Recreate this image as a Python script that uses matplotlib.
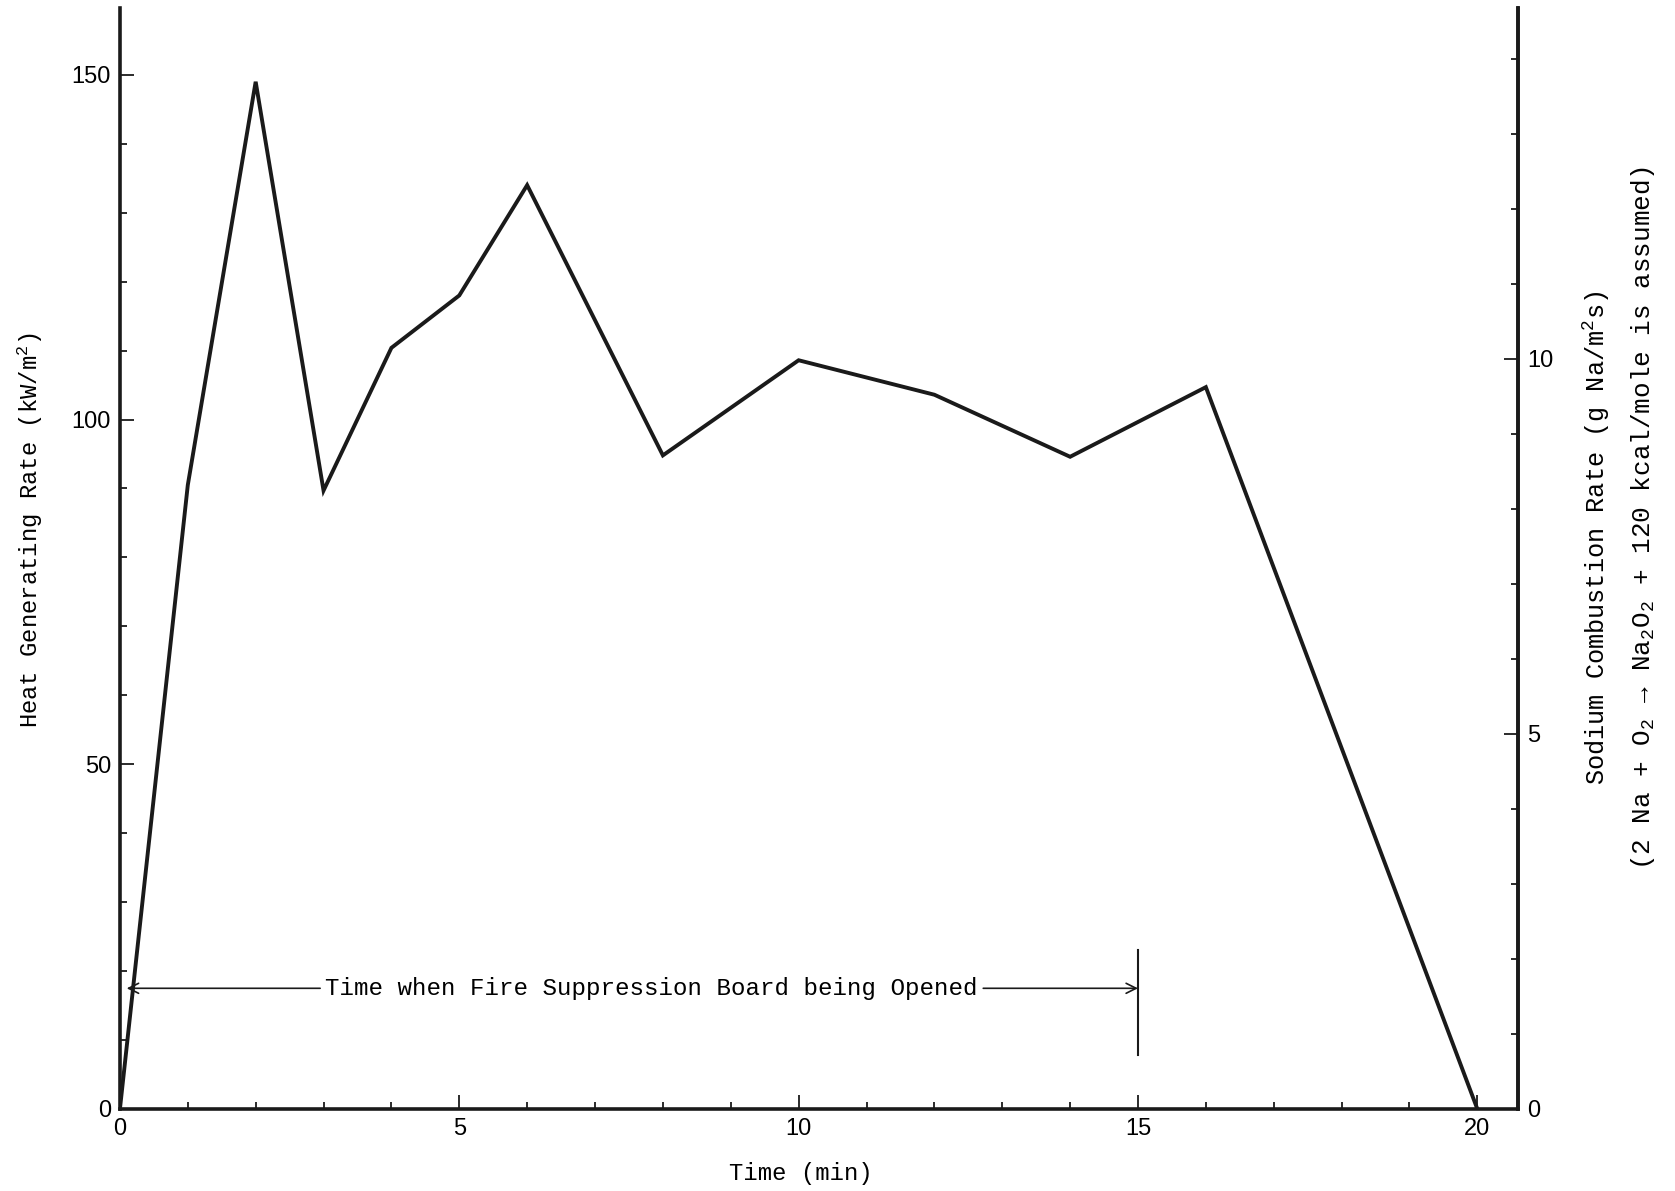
import matplotlib
matplotlib.use("Agg")
import matplotlib.pyplot as plt
from matplotlib.ticker import MultipleLocator

plt.rcParams['font.family'] = ['Liberation Mono', 'DejaVu Sans']
plt.rcParams['mathtext.fontset'] = 'custom'
plt.rcParams['mathtext.rm'] = 'Liberation Mono'
plt.rcParams['mathtext.it'] = 'Liberation Mono'

# Datos
time_min = [0, 1, 2, 3, 4, 5, 6, 8, 10, 12, 14, 16, 20]
heat_rate = [0, 90.5, 149, 89.7, 110.4, 118, 134, 94.8, 108.6, 103.6, 94.6, 104.7, 0]

# Relacion entre ejes: 1 g Na/m2s ~ 10.88 kW/m2
kw_per_gna = 10.88

annot_text = "Time when Fire Suppression Board being Opened"
annot_y = 17.5
annot_start = 0.1
annot_end = 15.0
annot_text_left = 2.95
annot_text_right = 12.72

ink = '#1a1a1a'
label_size = 17.2
tick_font = 'Liberation Sans'

fig = plt.figure(figsize=(16.75, 11.91), dpi=100)
ax = fig.add_axes([0.0716, 0.0689, 0.8347, 0.9244])

ax.plot(time_min, heat_rate, color=ink, lw=2.8, solid_joinstyle='miter')

ax.set_xlim(0, 20.6)
ax.set_ylim(0, 159.7)
ax.spines['top'].set_visible(False)
for s in ['left', 'right', 'bottom']:
    ax.spines[s].set_linewidth(2.6)
    ax.spines[s].set_color(ink)

ax.xaxis.set_major_locator(MultipleLocator(5))
ax.xaxis.set_minor_locator(MultipleLocator(1))
ax.yaxis.set_major_locator(MultipleLocator(50))
ax.yaxis.set_minor_locator(MultipleLocator(10))
ax.tick_params(which='both', direction='in', width=1.3, color=ink)
ax.tick_params(which='major', length=10, labelsize=17, pad=6.5)
ax.tick_params(which='minor', length=5)
for lab in ax.get_xticklabels() + ax.get_yticklabels():
    lab.set_family(tick_font)

# Eje derecho
ax2 = ax.twinx()
ax2.set_ylim(0, 159.7 / kw_per_gna)
for s in ['left', 'top', 'bottom']:
    ax2.spines[s].set_visible(False)
ax2.spines['right'].set_linewidth(2.6)
ax2.spines['right'].set_color(ink)
ax2.yaxis.set_major_locator(MultipleLocator(5))
ax2.yaxis.set_minor_locator(MultipleLocator(1))
ax2.tick_params(which='both', direction='in', width=1.3, color=ink)
ax2.tick_params(which='major', length=10, labelsize=17, pad=6.5)
ax2.tick_params(which='minor', length=5)
for lab in ax2.get_yticklabels():
    lab.set_family(tick_font)

# Etiquetas de ejes
fig.text(0.478, 0.0151, "Time (min)", fontsize=label_size, ha='center', va='center')
fig.text(0.018, 0.555, "Heat Generating Rate (kW/m$^2$)", fontsize=label_size,
         rotation=90, ha='center', va='center')
fig.text(0.9534, 0.548, "Sodium Combustion Rate (g Na/m$^2$s)", fontsize=18.2,
         rotation=90, ha='center', va='center')
fig.text(0.981, 0.565, "(2 Na + O$_2$ → Na$_2$O$_2$ + 120 kcal/mole is assumed)",
         fontsize=18.7, rotation=90, ha='center', va='center')

# Anotacion
ax.text((annot_text_left + annot_text_right) / 2, annot_y, annot_text,
        fontsize=17.4, ha='center', va='center')
ax.annotate('', xy=(annot_start, annot_y), xytext=(annot_text_left, annot_y),
            arrowprops=dict(arrowstyle='->', lw=1.2, color=ink,
                            shrinkA=0, shrinkB=0, mutation_scale=18))
ax.annotate('', xy=(annot_end, annot_y), xytext=(annot_text_right, annot_y),
            arrowprops=dict(arrowstyle='->', lw=1.2, color=ink,
                            shrinkA=0, shrinkB=0, mutation_scale=18))
ax.plot([annot_end, annot_end], [7.8, 23], color=ink, lw=1.5)

fig.savefig("out.png", dpi=100)
